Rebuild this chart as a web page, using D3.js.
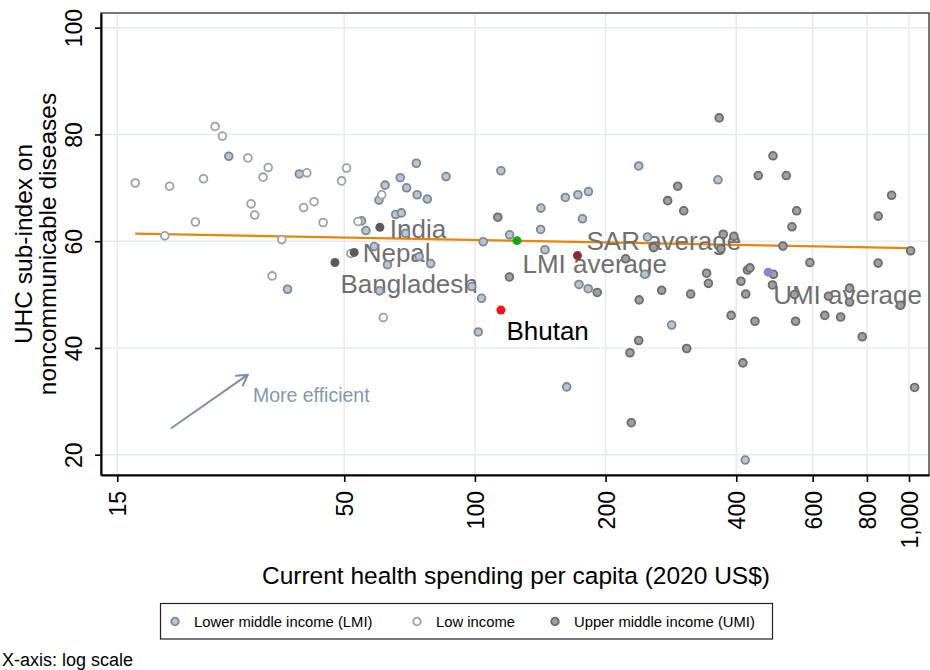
<!DOCTYPE html>
<html>
<head>
<meta charset="utf-8">
<script src="https://cdn.jsdelivr.net/npm/d3@7"></script>
<style>
  html, body { margin: 0; padding: 0; background: #fff; }
  svg { display: block; font-family: "Liberation Sans", Arial, Helvetica, sans-serif; }
</style>
</head>
<body>
<svg id="chart" width="930" height="670"></svg>
<script>
// Current health spending per capita (2020 US$) vs UHC sub-index on NCDs, by income group.
// Each pair: [spending, UHC sub-index]
const lowIncome = [
  [16.5,70.9],[19.8,70.3],[23.7,71.7],[25.2,81.5],[26.2,79.7],[30.0,75.6],[33.4,73.8],
  [32.5,72.0],[41.0,72.8],[50.6,73.7],[49.3,71.3],[22.7,63.6],[19.3,61.0],[30.5,67.0],
  [31.1,64.9],[40.3,66.3],[42.6,67.4],[44.7,63.5],[35.9,60.3],[51.8,57.7],[34.1,53.5],
  [53.8,63.7],[61.0,68.7],[61.5,45.7]
];
const lowerMiddleIncome = [
  [27.1,75.9],[39.4,72.6],[37.0,51.0],[73.3,74.6],[67.3,71.9],[62.1,70.5],[69.6,70.0],
  [60.1,67.7],[73.6,68.7],[77.7,67.9],[85.8,72.1],[114.8,73.2],[65.7,65.0],[67.7,65.3],
  [54.8,63.8],[56.1,62.0],[69.2,61.5],[58.6,59.0],[62.9,55.6],[74.4,57.1],[79.1,55.8],
  [60.3,50.7],[98.3,51.5],[103.6,49.3],[101.8,43.0],[104.5,59.9],[120.2,61.2],[141.9,66.2],
  [141.7,62.2],[145.0,58.4],[161.5,68.2],[172.7,68.7],[182.6,69.3],[176.9,64.2],[173.7,51.9],
  [182.4,51.1],[162.7,32.7],[238.4,74.1],[362.9,71.5],[249.7,60.8],[246.4,53.8],[284.0,44.3],
  [419.5,19.0]
];
const upperMiddleIncome = [
  [112.9,64.5],[120.1,53.3],[365.4,83.1],[486.0,76.0],[449.5,72.3],[521.6,72.3],[293.2,70.3],
  [278.0,67.6],[302.7,65.7],[551.1,65.7],[537.5,62.7],[912.0,68.6],[849.4,64.7],[373.3,61.3],
  [395.1,60.9],[368.7,58.6],[258.1,58.8],[512.4,59.1],[1008.7,58.2],[222.5,56.7],[341.8,54.0],
  [345.1,52.1],[424.4,54.6],[430.1,55.0],[410.1,52.5],[487.3,53.8],[484.7,51.8],[591.2,56.0],
  [849.0,55.9],[191.3,50.4],[269.3,50.8],[314.1,50.1],[239.0,49.0],[420.6,50.1],[544.7,50.0],
  [652.3,49.7],[729.7,51.2],[729.7,48.6],[955.7,48.0],[389.3,46.1],[441.7,45.0],[547.9,45.0],
  [639.6,46.1],[695.9,45.8],[780.3,42.1],[238.4,41.4],[227.6,39.1],[307.5,39.9],[414.4,37.2],
  [1030.4,32.6],[229.2,26.0]
];

// Labelled countries and regional/income-group averages
const highlightNames    = ["India", "Nepal", "Bangladesh", "Bhutan", "SAR average", "LMI average", "UMI average"];
const highlightSpending = [60.4, 52.7, 47.6, 114.8, 125.0, 172.3, 473.8];
const highlightUhc      = [62.6, 57.9, 56.0, 47.1, 60.1, 57.3, 54.2];

// Fitted line (UHC on log spending), endpoints over the data range
const fitSpending = [16.5, 1009];
const fitUhc      = [61.4, 58.7];

// Axes
const xDomain = [13.76, 1112];
const yDomain = [16.2, 102.75];
const xTicks = [15, 50, 100, 200, 400, 600, 800, 1000];
const yTicks = [20, 40, 60, 80, 100];

const legendLabels = ["Lower middle income (LMI)", "Low income", "Upper middle income (UMI)"];

// "More efficient" annotation, in data units
const arrowFrom = [20, 25];
const arrowTo = [30, 35];
const noteAt = [30.8, 29.9];

// ---------- styling ----------
const box = { left: 101, right: 929, top: 13, bottom: 475 };
const groupStyle = {
  lmi: { fill: "#b8c5d2", stroke: "#7e8892" },
  low: { fill: "#ffffff", stroke: "#9aa2a5" },
  umi: { fill: "#a0a0a0", stroke: "#6c6c6c" }
};
const highlightFill = {
  "India": "#5b5b5b", "Nepal": "#5b5b5b", "Bangladesh": "#5b5b5b",
  "Bhutan": "#f01414", "SAR average": "#16a616", "LMI average": "#8c2a33", "UMI average": "#8b84d4"
};
// label placement relative to its marker: [dx, baseline dy]
const labelOffset = {
  "India": [10, 10.5], "Nepal": [8.5, 9.5], "Bangladesh": [5.5, 30], "Bhutan": [5.5, 30],
  "SAR average": [69.5, 9.5], "LMI average": [-55, 17], "UMI average": [5, 32]
};
const gridColor = "#e4ecf0";

const svg = d3.select("#chart");

const x = d3.scaleLog().domain(xDomain).range([box.left, box.right]);
const y = d3.scaleLinear().domain(yDomain).range([box.bottom, box.top]);

// grid
svg.append("g").selectAll("line").data(yTicks).join("line")
  .attr("x1", box.left).attr("x2", box.right)
  .attr("y1", d => y(d)).attr("y2", d => y(d))
  .attr("stroke", gridColor).attr("stroke-width", 1.6);
svg.append("g").selectAll("line").data(xTicks).join("line")
  .attr("y1", box.top).attr("y2", box.bottom)
  .attr("x1", d => x(d)).attr("x2", d => x(d))
  .attr("stroke", gridColor).attr("stroke-width", 1.6);

// plot frame
svg.append("rect")
  .attr("x", box.left).attr("y", box.top)
  .attr("width", box.right - box.left).attr("height", box.bottom - box.top)
  .attr("fill", "none").attr("stroke", "#3c3c3c").attr("stroke-width", 1.4);

// axes
const yAxis = svg.append("g")
  .attr("transform", `translate(${box.left},0)`)
  .call(d3.axisLeft(y).tickValues(yTicks).tickSize(6).tickSizeOuter(0));
const xAxis = svg.append("g")
  .attr("transform", `translate(0,${box.bottom})`)
  .call(d3.axisBottom(x).tickValues(xTicks).tickSize(7).tickSizeOuter(0)
    .tickFormat(d3.format(",")));

[yAxis, xAxis].forEach(ax => {
  ax.select(".domain").attr("stroke", "#000").attr("stroke-width", 2);
  ax.selectAll(".tick line").attr("stroke", "#000").attr("stroke-width", 1.6);
  ax.selectAll(".tick text")
    .attr("fill", "#000")
    .attr("font-family", "'Liberation Sans', Arial, sans-serif")
    .attr("font-size", 23)
    .attr("x", null).attr("y", null).attr("dy", null);
});
yAxis.selectAll(".tick text")
  .attr("text-anchor", "middle")
  .attr("transform", "translate(-19,0) rotate(-90)");
xAxis.selectAll(".tick text")
  .attr("text-anchor", "end")
  .attr("transform", "translate(8.5,16) rotate(-90)");

// axis titles
svg.append("text")
  .attr("x", (box.left + box.right) / 2 + 1).attr("y", 584)
  .attr("text-anchor", "middle").attr("font-size", 24.5).attr("fill", "#000")
  .text("Current health spending per capita (2020 US$)");
const yTitle = svg.append("g").attr("transform", `translate(0,${(box.top + box.bottom) / 2})`);
yTitle.append("text").attr("transform", "translate(32,0) rotate(-90)")
  .attr("text-anchor", "middle").attr("font-size", 24.5).text("UHC sub-index on");
yTitle.append("text").attr("transform", "translate(56,0) rotate(-90)")
  .attr("text-anchor", "middle").attr("font-size", 24.5).text("noncommunicable diseases");

// efficiency arrow
const arrowColor = "#7d91a6";
const ax0 = x(arrowFrom[0]), ay0 = y(arrowFrom[1]);
const ax1 = x(arrowTo[0]), ay1 = y(arrowTo[1]);
const ang = Math.atan2(ay1 - ay0, ax1 - ax0);
const headLen = 12, headSpread = Math.PI / 6;
svg.append("path")
  .attr("d", `M${ax0},${ay0}L${ax1},${ay1}` +
    `M${ax1 - headLen * Math.cos(ang - headSpread)},${ay1 - headLen * Math.sin(ang - headSpread)}` +
    `L${ax1},${ay1}` +
    `L${ax1 - headLen * Math.cos(ang + headSpread)},${ay1 - headLen * Math.sin(ang + headSpread)}`)
  .attr("fill", "none").attr("stroke", arrowColor).attr("stroke-width", 2)
  .attr("stroke-linecap", "round").attr("stroke-linejoin", "round");
svg.append("text")
  .attr("x", x(noteAt[0])).attr("y", y(noteAt[1]))
  .attr("font-size", 19.5).attr("fill", "#8398ad")
  .text("More efficient");

// fitted line
svg.append("path")
  .datum(d3.zip(fitSpending, fitUhc))
  .attr("d", d3.line().x(d => x(d[0])).y(d => y(d[1])))
  .attr("fill", "none").attr("stroke", "#e8860c").attr("stroke-width", 2.2);

// highlight labels (drawn beneath the markers)
const highlights = highlightNames.map((n, i) => ({ name: n, sx: highlightSpending[i], uy: highlightUhc[i] }));
svg.append("g").selectAll("text").data(highlights).join("text")
  .attr("x", d => x(d.sx) + labelOffset[d.name][0])
  .attr("y", d => y(d.uy) + labelOffset[d.name][1])
  .attr("font-size", 26)
  .attr("fill", d => d.name === "Bhutan" ? "#000" : "#6f6f6f")
  .text(d => d.name);

// income-group markers
function drawGroup(data, style) {
  svg.append("g").selectAll("circle").data(data).join("circle")
    .attr("cx", d => x(d[0])).attr("cy", d => y(d[1])).attr("r", 3.9)
    .attr("fill", style.fill).attr("stroke", style.stroke).attr("stroke-width", 1.8);
}
drawGroup(lowerMiddleIncome, groupStyle.lmi);
drawGroup(lowIncome, groupStyle.low);
drawGroup(upperMiddleIncome, groupStyle.umi);

// highlighted markers
svg.append("g").selectAll("circle").data(highlights).join("circle")
  .attr("cx", d => x(d.sx)).attr("cy", d => y(d.uy)).attr("r", 4.5)
  .attr("fill", d => highlightFill[d.name]);

// legend
const legend = svg.append("g");
legend.append("rect")
  .attr("x", 160.5).attr("y", 603.5).attr("width", 612).attr("height", 35.5)
  .attr("fill", "#fff").attr("stroke", "#222").attr("stroke-width", 1.2);
const legendStyles = [groupStyle.lmi, groupStyle.low, groupStyle.umi];
const legendX = [175, 417, 555];
const items = legend.selectAll("g.item").data(legendLabels).join("g")
  .attr("class", "item")
  .attr("transform", (d, i) => `translate(${legendX[i]},621.5)`);
items.append("circle").attr("r", 3.8)
  .attr("fill", (d, i) => legendStyles[i].fill)
  .attr("stroke", (d, i) => legendStyles[i].stroke).attr("stroke-width", 1.8);
items.append("text").attr("x", 19).attr("y", 5.3)
  .attr("font-size", 14.8).attr("fill", "#000").text(d => d);

// footnote
svg.append("text").attr("x", 2).attr("y", 666)
  .attr("font-size", 18).attr("fill", "#000").text("X-axis: log scale");
</script>
</body>
</html>
